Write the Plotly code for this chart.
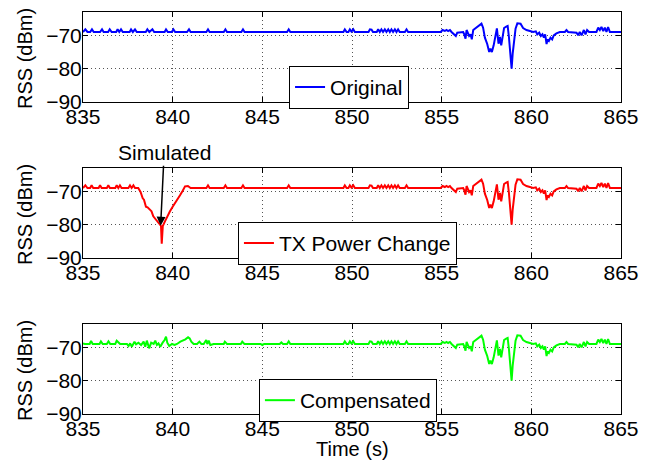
import plotly.graph_objects as go

# ---------------- data ----------------
orig_head_t = [835.0, 835.13, 835.25, 835.4, 835.5, 835.6, 835.95, 836.06, 836.15, 836.4, 836.49, 836.6,
               836.85, 836.93, 837.02, 837.12, 837.22, 837.6, 837.68, 837.78, 837.9, 838.0, 838.5, 838.59,
               838.7, 838.87, 838.97, 839.55, 839.63, 839.73, 839.95, 840.04, 840.14, 840.8, 840.91, 841.0,
               841.88, 841.97, 842.06, 842.85, 842.94, 843.03, 843.83, 843.92, 844.01, 846.3]
orig_head_v = [-69, -68.2, -69, -69, -68.2, -69, -69, -68.2, -69, -69, -68.2, -69,
               -69, -68.2, -69, -68.2, -69, -69, -68.2, -69, -68.2, -69, -69, -68.2,
               -69, -68.2, -69, -69, -68.2, -69, -69, -68.2, -69, -69, -68.2, -69,
               -69, -68.2, -69, -69, -68.2, -69, -69, -68.2, -69, -69]

tx_head_t = [835.0, 835.13, 835.25, 835.4, 835.48, 835.57, 835.87, 835.95, 836.04, 836.33, 836.41, 836.5,
             836.8, 836.88, 836.97, 837.06, 837.15, 837.53, 837.62, 837.71, 837.81, 837.9, 838.08, 838.21,
             838.33, 838.4, 838.51, 838.6, 838.73, 838.82, 838.92, 839.07, 839.2, 839.29, 839.35, 839.39,
             839.45, 839.57, 839.7, 839.85, 840.0, 840.13, 840.25, 840.41, 840.56, 840.69, 840.85, 841.0,
             841.88, 841.97, 842.06, 842.85, 842.94, 843.03, 843.83, 843.92, 844.01, 846.3]
tx_head_v = [-69, -68.2, -69, -69, -68.2, -69, -69, -68.2, -69, -69, -68.2, -69,
             -69, -68.2, -69, -68.2, -69, -69, -68.2, -69, -68.2, -69, -69, -70.2,
             -72.1, -72.5, -74.6, -74.8, -75.5, -76.0, -77.5, -78.5, -79.1, -79.9, -80.4, -85.7,
             -80.4, -79.0, -77.5, -76.0, -74.6, -73.6, -72.8, -71.2, -69.8, -68.5, -68.4, -69,
             -69, -68.2, -69, -69, -68.2, -69, -69, -68.2, -69, -69]

comp_head_t = [835.0, 835.1, 835.37, 835.45, 835.54, 835.92, 836.0, 836.1, 836.33, 836.42, 836.52, 836.8,
               836.88, 837.07, 837.45, 837.54, 837.63, 837.72, 837.87, 837.96, 838.09, 838.24, 838.38, 838.47,
               838.56, 838.69, 838.8, 838.94, 839.03, 839.12, 839.21, 839.31, 839.44, 839.55, 839.63, 839.7,
               839.81, 839.96, 840.11, 840.24, 840.43, 840.56, 840.71, 840.86, 840.95, 841.04, 841.17, 841.36,
               841.49, 841.6, 841.73, 841.87, 841.93, 842.01, 842.1, 842.28, 842.85, 842.91, 843.03, 843.8,
               843.88, 844.0, 844.9, 845.0, 845.1, 845.97, 846.06, 846.15, 846.3]
comp_head_v = [-68.8, -69, -69, -68.1, -69, -69, -68.2, -69, -69, -68.2, -69, -69,
               -68.0, -69, -69, -69.6, -68.8, -69.8, -68.3, -69.1, -68.6, -69.3, -68.3, -69.8,
               -68.0, -70.3, -68.6, -69.0, -68.0, -69.3, -68.8, -69.8, -68.6, -67.8, -66.8, -68.6,
               -69.6, -69.0, -69.3, -69.0, -68.3, -68.0, -67.6, -67.0, -67.3, -68.3, -69.0, -69.0,
               -68.3, -69.0, -69.0, -67.8, -69.0, -68.0, -69.3, -69.0, -69, -68.3, -69, -69,
               -68.3, -69, -69, -69.3, -69, -69, -68.5, -69, -69]

tail_t = [846.38, 846.47, 846.56, 849.52, 849.6, 849.7, 849.8, 849.88, 849.97, 850.07, 850.16, 850.92,
          851.0, 851.09, 851.17, 851.38, 851.46, 851.55, 851.64, 851.73, 851.83, 851.92, 852.02, 852.11,
          852.2, 852.29, 852.39, 852.48, 852.57, 852.66, 852.95, 853.04, 853.13, 854.95,
          855.05, 855.18, 855.27, 855.36, 855.46, 855.55, 855.68, 855.79, 855.87, 856.2, 856.26, 856.33,
          856.39, 856.48, 856.53, 856.61, 856.68, 856.76, 856.87, 856.94, 857.04, 857.13, 857.22, 857.31,
          857.41, 857.54, 857.65, 857.72, 857.8, 857.9, 858.0, 858.08, 858.17, 858.25, 858.32, 858.4,
          858.48, 858.6, 858.68, 858.75, 858.82, 858.9, 858.96, 859.03, 859.12, 859.22, 859.4, 859.54,
          859.73, 859.92, 860.1, 860.25, 860.33, 860.44, 860.53, 860.62, 860.7, 860.77, 860.85, 860.9,
          860.98, 861.07, 861.16, 861.25, 861.4, 861.59, 861.87, 861.96, 862.05, 862.52, 862.61, 862.7,
          862.8, 862.93, 863.02, 863.11, 863.22, 863.63, 863.73, 863.82, 863.91, 864.01, 864.1, 864.19,
          864.28, 864.38, 865.0]
tail_v = [-69, -68.2, -69, -69, -68.2, -69, -69, -68.2, -68.9, -68.2, -69, -69,
          -68.2, -68.3, -69, -69, -68.2, -69, -68.2, -69, -68.2, -69, -68.2, -69,
          -68.2, -69, -68.2, -69, -68.2, -69, -69, -68.2, -69, -69,
          -68.4, -68.7, -68.4, -68.7, -68.4, -69.0, -69.7, -70.2, -69.2, -69.0, -69.7, -71.0,
          -68.4, -69.7, -70.2, -69.7, -71.2, -68.4, -68.0, -67.5, -67.3, -66.8, -66.5, -67.7,
          -70.7, -72.6, -75.0, -74.0, -75.0, -73.0, -70.0, -67.9, -72.5, -70.5, -73.0, -69.5,
          -67.8, -67.4, -67.2, -70.5, -75.0, -80.0, -75.5, -71.5, -68.0, -66.4, -66.5, -67.8,
          -68.4, -68.7, -69.0, -68.8, -69.7, -69.2, -70.2, -69.7, -70.7, -69.7, -72.6, -71.2,
          -71.7, -70.7, -71.2, -70.0, -69.4, -69.0, -69.0, -68.4, -69.0, -69.2, -70.0, -69.0,
          -70.0, -68.4, -69.7, -68.4, -69.0, -69.0, -67.7, -68.4, -67.5, -68.7, -67.7, -69.0,
          -67.5, -69.0, -69.0]

series_names = ["Original", "TX Power Change", "Compensated"]
series_colors = ["#0000FF", "#FF0000", "#00FF00"]
x_ticks = [835, 840, 845, 850, 855, 860, 865]
y_ticks = [-90, -80, -70]
y_title = "RSS (dBm)"
x_title = "Time (s)"

heads = [(orig_head_t, orig_head_v), (tx_head_t, tx_head_v), (comp_head_t, comp_head_v)]

FONT = "Liberation Sans, Arial, Helvetica, sans-serif"
FS = 21
fig = go.Figure()

domains = [[0.7761, 1.0], [0.3881, 0.6119], [0.0, 0.2239]]
legend_pos = [(0.383, 0.866), (0.288, 0.478), (0.327, 0.087)]

for i, (ht, hv) in enumerate(heads):
    xa = "x" if i == 0 else f"x{i+1}"
    ya = "y" if i == 0 else f"y{i+1}"
    lg = "legend" if i == 0 else f"legend{i+1}"
    fig.add_trace(go.Scatter(x=ht + tail_t, y=hv + tail_v, mode="lines", name=series_names[i],
                             line=dict(color=series_colors[i], width=2),
                             xaxis=xa, yaxis=ya, legend=lg, showlegend=True))

axis_common = dict(showline=True, linecolor="black", linewidth=1, mirror="ticks",
                   ticks="inside", ticklen=5, tickcolor="black",
                   showgrid=True, gridcolor="#555", griddash="1px,3px", gridwidth=1,
                   zeroline=False, automargin=False,
                   tickfont=dict(family=FONT, size=FS, color="black"))

# page body has an 8px margin, so the figure is slightly smaller and shifted
layout = dict(width=635, height=452, margin=dict(l=75, r=22, t=4, b=46),
              paper_bgcolor="white", plot_bgcolor="white",
              font=dict(family=FONT, size=FS, color="black"), showlegend=True)

for i in range(3):
    xk = "xaxis" if i == 0 else f"xaxis{i+1}"
    yk = "yaxis" if i == 0 else f"yaxis{i+1}"
    xa = "x" if i == 0 else f"x{i+1}"
    ya = "y" if i == 0 else f"y{i+1}"
    layout[xk] = dict(axis_common, range=[835, 865], tickvals=x_ticks, anchor=ya, domain=[0, 1],
                      ticklabelstandoff=-4)
    layout[yk] = dict(axis_common, range=[-90, -63], tickvals=y_ticks, anchor=xa, domain=domains[i],
                      ticklabelstandoff=-4)
    lk = "legend" if i == 0 else f"legend{i+1}"
    layout[lk] = dict(x=legend_pos[i][0], y=legend_pos[i][1], xanchor="left", yanchor="top",
                      bgcolor="white", bordercolor="black", borderwidth=1,
                      font=dict(family=FONT, size=FS, color="black"))

fig.update_layout(**layout)

for i in range(3):
    d = domains[i]
    fig.add_annotation(x=-0.1078, y=(d[0] + d[1]) / 2 - 0.005, xref="paper", yref="paper", text=y_title,
                       textangle=-90, showarrow=False, xanchor="center", yanchor="middle",
                       font=dict(family=FONT, size=20, color="black"))

fig.add_annotation(x=0.5, y=-0.087, xref="paper", yref="paper", text=x_title, showarrow=False,
                   xanchor="center", yanchor="middle", font=dict(family=FONT, size=20, color="black"))

fig.add_annotation(x=839.33, y=-80.3, xref="x2", yref="y2", text="Simulated",
                   showarrow=True, ax=3.5, ay=-73, arrowhead=2, arrowsize=1.2, arrowwidth=1.5,
                   arrowcolor="black", font=dict(family=FONT, size=FS, color="black"))

fig.write_html("out.html")
